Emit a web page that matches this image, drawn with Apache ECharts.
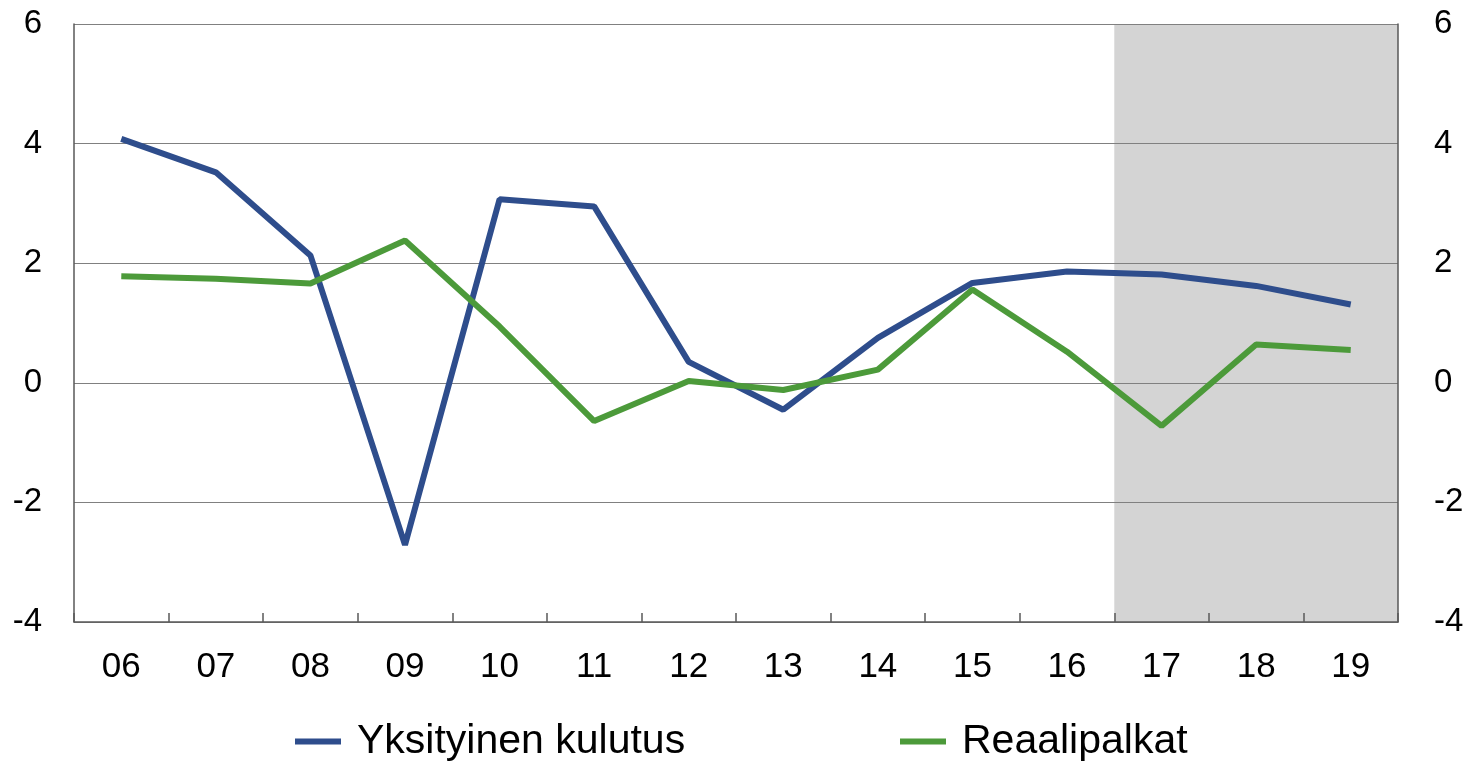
<!DOCTYPE html>
<html>
<head>
<meta charset="utf-8">
<script src="https://cdn.jsdelivr.net/npm/echarts@6/dist/echarts.min.js"></script>
<style>
html,body{margin:0;padding:0;background:#fff;}
#main{width:1470px;height:765px;}
</style>
</head>
<body>
<div id="main"></div>
<script>
var years = ['06','07','08','09','10','11','12','13','14','15','16','17','18','19'];
var yksityinenKulutus = [4.08, 3.52, 2.13, -2.71, 3.07, 2.95, 0.35, -0.45, 0.75, 1.67, 1.86, 1.81, 1.62, 1.31];
var reaalipalkat = [1.78, 1.74, 1.66, 2.38, 0.94, -0.64, 0.03, -0.12, 0.22, 1.56, 0.52, -0.72, 0.64, 0.55];
// ennusteen alue (kategorioiden reunat)
var ennusteAlku = 11;
var ennusteLoppu = 14;

var fontti = '"Liberation Sans", Arial, sans-serif';
var sininen = '#2e4d8c';
var vihrea = '#4c9a3a';

var ChartMain = {
	init:function(){
		var myChart = echarts.init(document.getElementById('main'));
		myChart.setOption(ChartMain.optionfun(), true);
	},

	optionfun:function(){
		var yAxisBase = {
			type:'value',
			min:-4,
			max:6,
			interval:2,
			z:1.5,
			axisLine:{show:true, lineStyle:{color:'#595959', width:1.5}},
			axisTick:{show:false},
			splitLine:{show:true, lineStyle:{color:'#808080', width:1.2}},
			axisLabel:{color:'#000', fontSize:33, fontFamily:fontti}
		};
		var legendBase = {
			top:721,
			padding:0,
			icon:'rect',
			itemWidth:46,
			itemHeight:6,
			textStyle:{color:'#000', fontSize:41, fontFamily:fontti, padding:[0,0,0,11]}
		};
		return {
			backgroundColor:'#fff',
			animation:false,
			grid:{left:74, right:72, top:24, bottom:143},
			xAxis:[{
				type:'category',
				data:years,
				boundaryGap:true,
				z:1.5,
				axisLine:{show:true, onZero:false, lineStyle:{color:'#595959', width:1.5}},
				axisTick:{show:true, inside:true, length:9, interval:0, lineStyle:{color:'#595959', width:1.5}},
				axisLabel:{color:'#000', fontSize:35, fontFamily:fontti, margin:28, interval:0}
			},{
				type:'value',
				min:0,
				max:years.length,
				show:false
			}],
			yAxis:[
				Object.assign({}, yAxisBase, {position:'left', axisLabel:Object.assign({}, yAxisBase.axisLabel, {margin:32})}),
				Object.assign({}, yAxisBase, {position:'right', splitLine:{show:false}, axisLabel:Object.assign({}, yAxisBase.axisLabel, {margin:36})})
			],
			legend:[
				Object.assign({}, legendBase, {left:295, data:['Yksityinen kulutus']}),
				Object.assign({}, legendBase, {left:900, data:['Reaalipalkat']})
			],
			series:[{
				name:'ennuste',
				type:'line',
				xAxisIndex:1,
				yAxisIndex:0,
				data:[],
				silent:true,
				markArea:{
					silent:true,
					z:1,
					itemStyle:{color:'#d4d4d4'},
					data:[[{xAxis:ennusteAlku},{xAxis:ennusteLoppu}]]
				}
			},{
				name:'Yksityinen kulutus',
				type:'line',
				data:yksityinenKulutus,
				symbol:'none',
				lineStyle:{color:sininen, width:6},
				itemStyle:{color:sininen},
				z:3
			},{
				name:'Reaalipalkat',
				type:'line',
				data:reaalipalkat,
				symbol:'none',
				lineStyle:{color:vihrea, width:6},
				itemStyle:{color:vihrea},
				z:4
			}]
		};
	}
};

ChartMain.init();
</script>
</body>
</html>
